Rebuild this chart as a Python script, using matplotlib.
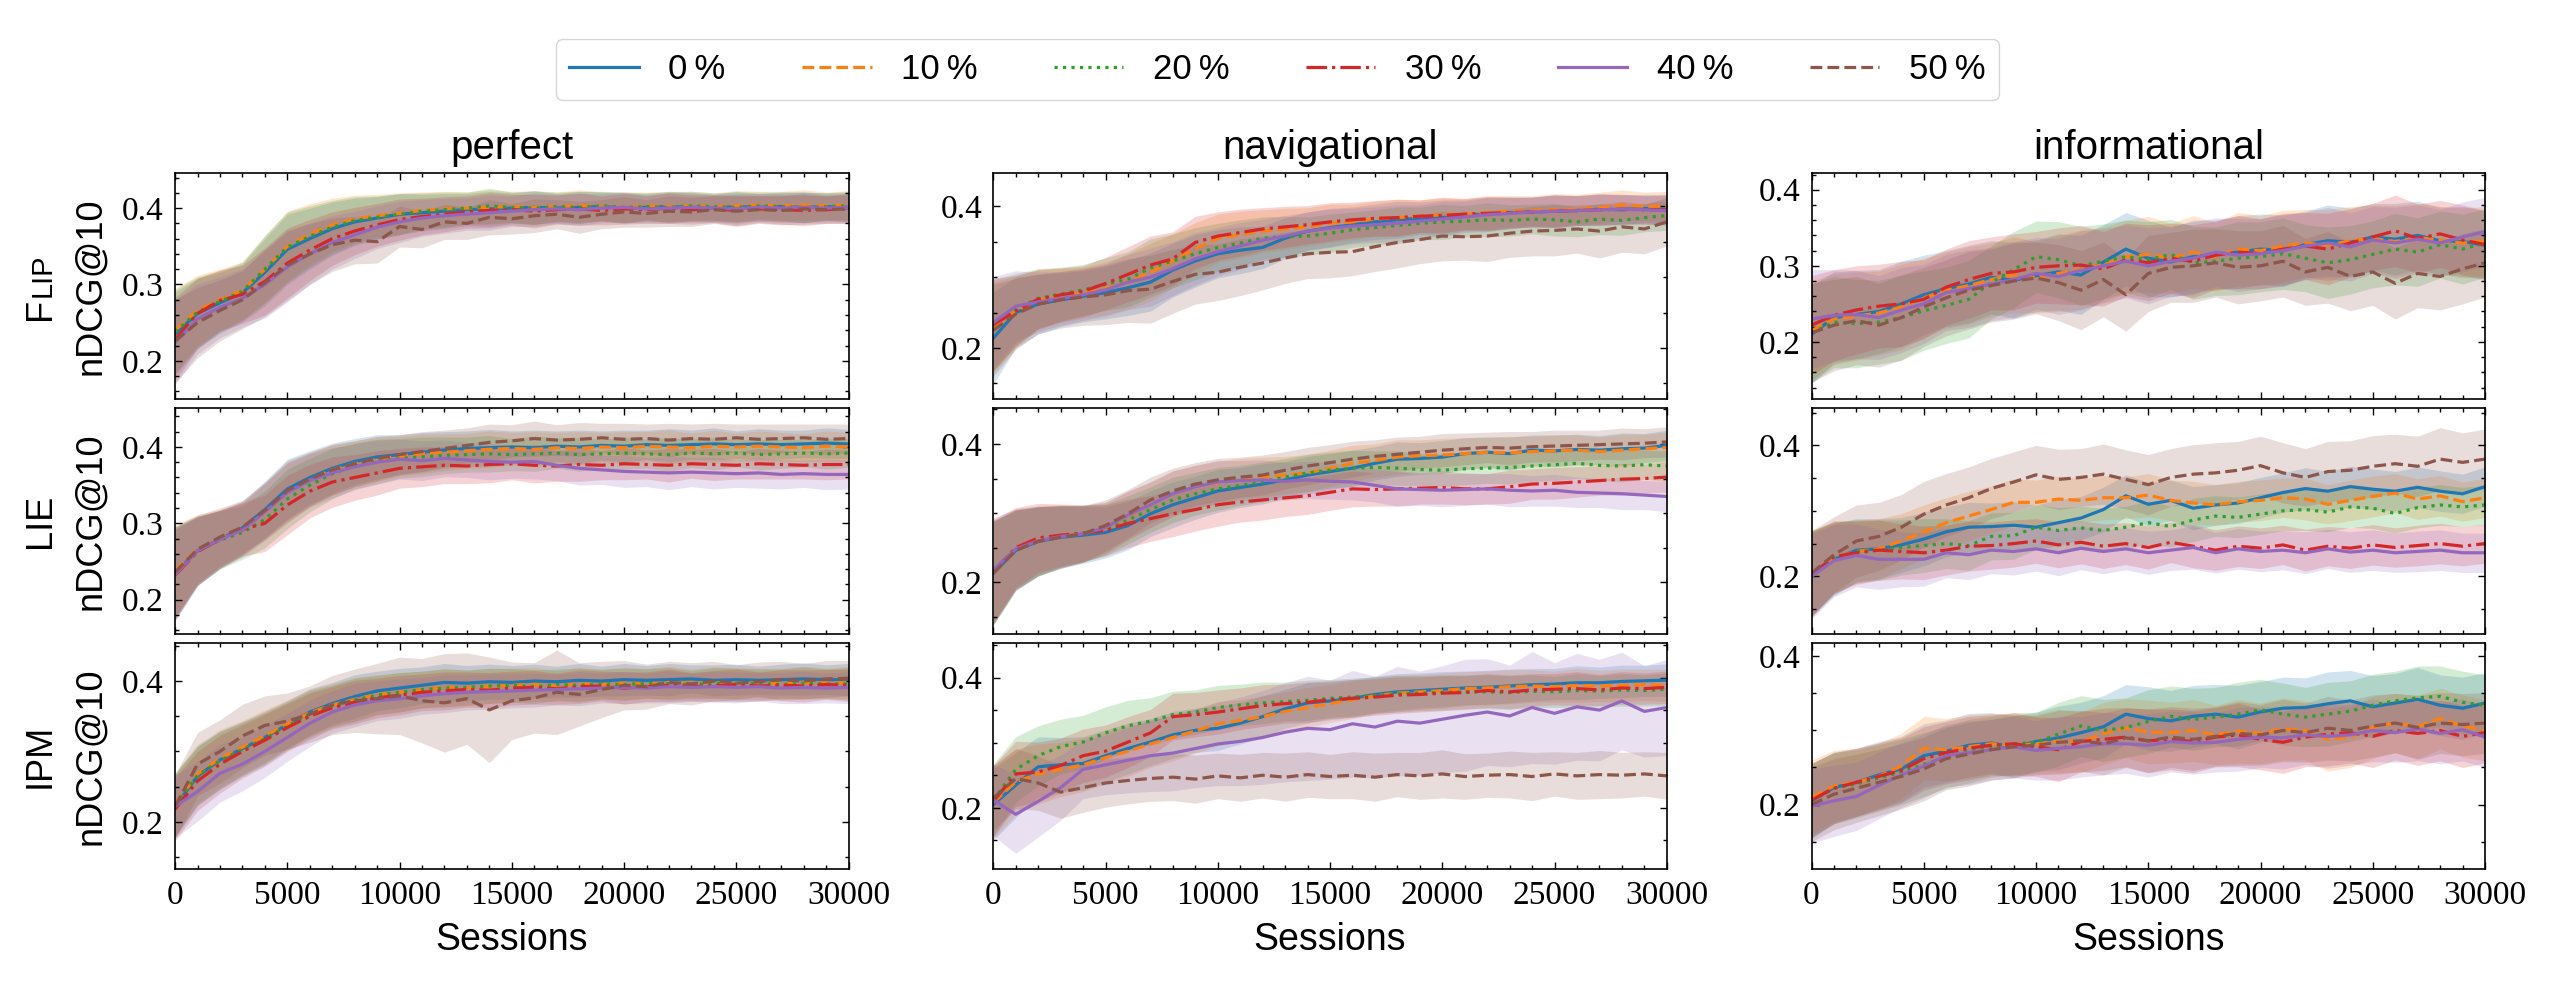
# Learning curves of nDCG@10 for different amounts of noise (3 click models x 3 user models)
import numpy as np
import matplotlib
matplotlib.use("Agg")
import matplotlib.pyplot as plt
from matplotlib.ticker import MultipleLocator, AutoMinorLocator

plt.rcParams['font.family'] = ['Liberation Serif', 'DejaVu Serif']
SANS = ['Liberation Sans', 'DejaVu Sans']

# x grid: one value every 1000 sessions
sessions = list(range(0, 30001, 1000))

labels = ['0\u2009%', '10\u2009%', '20\u2009%', '30\u2009%', '40\u2009%', '50\u2009%']
colors = ['#1f77b4', '#ff7f0e', '#2ca02c', '#d62728', '#9467bd', '#8c564b']
styles = ['-', '--', ':', '-.', '-', '--']
col_names = ['perfect', 'navigational', 'informational']

# ---- FLIP ----
flip_perfect = [
    [0.235, 0.262, 0.276, 0.289, 0.316, 0.346, 0.360, 0.373, 0.382, 0.387,
     0.392, 0.394, 0.396, 0.398, 0.399, 0.400, 0.401, 0.400, 0.401, 0.402,
     0.400, 0.401, 0.402, 0.401, 0.400, 0.402, 0.401, 0.402, 0.401, 0.402, 0.401],
    [0.240, 0.266, 0.280, 0.292, 0.320, 0.350, 0.366, 0.378, 0.386, 0.390,
     0.393, 0.397, 0.399, 0.400, 0.401, 0.402, 0.401, 0.402, 0.403, 0.402,
     0.401, 0.403, 0.402, 0.403, 0.402, 0.403, 0.404, 0.403, 0.404, 0.403, 0.404],
    [0.238, 0.264, 0.278, 0.291, 0.320, 0.349, 0.363, 0.375, 0.384, 0.388,
     0.392, 0.396, 0.398, 0.400, 0.403, 0.401, 0.400, 0.402, 0.401, 0.403,
     0.401, 0.402, 0.401, 0.403, 0.402, 0.401, 0.403, 0.402, 0.401, 0.402, 0.403],
    [0.228, 0.262, 0.279, 0.287, 0.304, 0.328, 0.345, 0.360, 0.370, 0.378,
     0.385, 0.389, 0.392, 0.395, 0.397, 0.398, 0.396, 0.398, 0.399, 0.397,
     0.399, 0.398, 0.400, 0.398, 0.399, 0.397, 0.399, 0.398, 0.397, 0.398, 0.399],
    [0.224, 0.255, 0.270, 0.282, 0.300, 0.323, 0.340, 0.355, 0.365, 0.375,
     0.382, 0.387, 0.390, 0.392, 0.394, 0.396, 0.398, 0.399, 0.398, 0.400,
     0.401, 0.399, 0.400, 0.401, 0.400, 0.399, 0.401, 0.400, 0.401, 0.400, 0.401],
    [0.226, 0.250, 0.266, 0.280, 0.302, 0.325, 0.340, 0.352, 0.358, 0.356,
     0.376, 0.372, 0.382, 0.380, 0.388, 0.386, 0.390, 0.392, 0.388, 0.392,
     0.395, 0.393, 0.396, 0.395, 0.398, 0.396, 0.398, 0.397, 0.399, 0.398, 0.399],
]
flip_perfect_std = [0.055, 0.046, 0.040, 0.038, 0.044, 0.046, 0.040, 0.035, 0.031, 0.028,
                    0.027, 0.024, 0.023, 0.021, 0.023, 0.020, 0.022, 0.019, 0.021, 0.019,
                    0.020, 0.018, 0.020, 0.019, 0.018, 0.020, 0.018, 0.019, 0.020, 0.018, 0.019]

flip_nav = [
    [0.214, 0.250, 0.262, 0.268, 0.273, 0.278, 0.285, 0.293, 0.310, 0.323,
     0.333, 0.338, 0.342, 0.355, 0.365, 0.370, 0.374, 0.378, 0.381, 0.383,
     0.384, 0.387, 0.389, 0.391, 0.392, 0.393, 0.394, 0.396, 0.395, 0.397, 0.396],
    [0.228, 0.252, 0.268, 0.274, 0.278, 0.284, 0.294, 0.307, 0.323, 0.340,
     0.355, 0.360, 0.365, 0.368, 0.371, 0.376, 0.378, 0.382, 0.384, 0.386,
     0.388, 0.389, 0.391, 0.393, 0.394, 0.395, 0.396, 0.398, 0.402, 0.400, 0.400],
    [0.232, 0.255, 0.270, 0.276, 0.282, 0.290, 0.297, 0.313, 0.323, 0.333,
     0.342, 0.348, 0.355, 0.357, 0.358, 0.362, 0.367, 0.370, 0.373, 0.376,
     0.378, 0.379, 0.381, 0.380, 0.382, 0.381, 0.378, 0.382, 0.380, 0.384, 0.387],
    [0.233, 0.252, 0.269, 0.275, 0.280, 0.291, 0.304, 0.317, 0.326, 0.349,
     0.358, 0.363, 0.368, 0.371, 0.374, 0.378, 0.381, 0.383, 0.384, 0.386,
     0.387, 0.389, 0.390, 0.391, 0.392, 0.393, 0.394, 0.395, 0.396, 0.395, 0.395],
    [0.236, 0.259, 0.265, 0.270, 0.275, 0.282, 0.293, 0.300, 0.312, 0.326,
     0.336, 0.344, 0.352, 0.358, 0.365, 0.369, 0.372, 0.374, 0.376, 0.379,
     0.382, 0.385, 0.388, 0.390, 0.392, 0.393, 0.394, 0.395, 0.396, 0.395, 0.394],
    [0.225, 0.248, 0.262, 0.268, 0.272, 0.275, 0.281, 0.283, 0.294, 0.304,
     0.307, 0.314, 0.320, 0.327, 0.333, 0.335, 0.336, 0.343, 0.349, 0.353,
     0.358, 0.357, 0.358, 0.362, 0.365, 0.366, 0.368, 0.365, 0.371, 0.368, 0.378],
]
flip_nav_std = [0.065, 0.050, 0.042, 0.038, 0.036, 0.037, 0.039, 0.041, 0.038, 0.037,
                0.034, 0.033, 0.030, 0.029, 0.027, 0.027, 0.025, 0.025, 0.026, 0.023,
                0.025, 0.022, 0.024, 0.022, 0.021, 0.023, 0.021, 0.022, 0.021, 0.020, 0.021]
flip_nav_std_50 = [0.065, 0.050, 0.042, 0.040, 0.040, 0.042, 0.045, 0.048, 0.045, 0.042,
                   0.040, 0.040, 0.038, 0.036, 0.035, 0.036, 0.034, 0.035, 0.036, 0.034,
                   0.035, 0.033, 0.036, 0.034, 0.035, 0.036, 0.034, 0.038, 0.036, 0.035, 0.034]

flip_info = [
    [0.210, 0.232, 0.236, 0.240, 0.250, 0.262, 0.270, 0.276, 0.285, 0.281,
     0.287, 0.292, 0.288, 0.305, 0.322, 0.310, 0.305, 0.312, 0.315, 0.318,
     0.322, 0.320, 0.328, 0.333, 0.331, 0.338, 0.335, 0.340, 0.333, 0.332, 0.327],
    [0.215, 0.230, 0.234, 0.238, 0.246, 0.258, 0.268, 0.274, 0.282, 0.288,
     0.285, 0.290, 0.295, 0.302, 0.312, 0.315, 0.310, 0.318, 0.312, 0.322,
     0.320, 0.326, 0.330, 0.327, 0.333, 0.336, 0.332, 0.337, 0.334, 0.330, 0.333],
    [0.212, 0.226, 0.224, 0.226, 0.232, 0.241, 0.248, 0.256, 0.278, 0.295,
     0.312, 0.308, 0.300, 0.306, 0.312, 0.308, 0.315, 0.304, 0.306, 0.310,
     0.312, 0.316, 0.310, 0.304, 0.308, 0.315, 0.322, 0.318, 0.328, 0.322, 0.330],
    [0.222, 0.235, 0.242, 0.247, 0.250, 0.256, 0.272, 0.282, 0.290, 0.292,
     0.298, 0.300, 0.301, 0.296, 0.308, 0.304, 0.310, 0.306, 0.314, 0.318,
     0.316, 0.322, 0.326, 0.322, 0.330, 0.338, 0.346, 0.336, 0.342, 0.334, 0.328],
    [0.230, 0.235, 0.236, 0.232, 0.242, 0.250, 0.265, 0.270, 0.276, 0.282,
     0.290, 0.286, 0.294, 0.300, 0.306, 0.300, 0.306, 0.310, 0.318, 0.314,
     0.316, 0.320, 0.326, 0.330, 0.325, 0.334, 0.330, 0.335, 0.330, 0.338, 0.345],
    [0.212, 0.222, 0.228, 0.222, 0.232, 0.246, 0.258, 0.268, 0.274, 0.280,
     0.284, 0.278, 0.268, 0.282, 0.262, 0.290, 0.298, 0.300, 0.304, 0.298,
     0.300, 0.306, 0.292, 0.298, 0.286, 0.292, 0.277, 0.290, 0.286, 0.296, 0.304],
]
flip_info_std = [0.065, 0.060, 0.058, 0.055, 0.056, 0.052, 0.050, 0.051, 0.048, 0.050,
                 0.047, 0.050, 0.052, 0.049, 0.048, 0.050, 0.046, 0.048, 0.045, 0.048,
                 0.046, 0.047, 0.044, 0.047, 0.045, 0.044, 0.047, 0.045, 0.044, 0.046, 0.045]

# ---- LIE ----
lie_perfect = [
    [0.235, 0.264, 0.279, 0.294, 0.318, 0.345, 0.360, 0.372, 0.381, 0.387,
     0.390, 0.393, 0.396, 0.398, 0.399, 0.400, 0.399, 0.401, 0.400, 0.402,
     0.401, 0.403, 0.402, 0.403, 0.404, 0.403, 0.404, 0.403, 0.404, 0.405, 0.404],
    [0.238, 0.266, 0.280, 0.293, 0.315, 0.340, 0.357, 0.370, 0.378, 0.384,
     0.388, 0.391, 0.393, 0.395, 0.397, 0.398, 0.397, 0.399, 0.398, 0.400,
     0.399, 0.401, 0.400, 0.399, 0.401, 0.400, 0.401, 0.400, 0.399, 0.401, 0.400],
    [0.235, 0.264, 0.278, 0.288, 0.305, 0.332, 0.350, 0.365, 0.375, 0.381,
     0.385, 0.387, 0.389, 0.390, 0.391, 0.390, 0.391, 0.392, 0.390, 0.391,
     0.392, 0.391, 0.390, 0.392, 0.391, 0.392, 0.390, 0.391, 0.392, 0.391, 0.392],
    [0.232, 0.263, 0.279, 0.292, 0.300, 0.324, 0.342, 0.354, 0.360, 0.366,
     0.372, 0.374, 0.376, 0.375, 0.377, 0.378, 0.376, 0.375, 0.377, 0.376,
     0.378, 0.377, 0.376, 0.378, 0.377, 0.376, 0.378, 0.377, 0.376, 0.377, 0.377],
    [0.233, 0.264, 0.279, 0.291, 0.315, 0.340, 0.356, 0.366, 0.374, 0.380,
     0.384, 0.382, 0.385, 0.383, 0.381, 0.380, 0.381, 0.376, 0.372, 0.370,
     0.368, 0.367, 0.366, 0.367, 0.366, 0.365, 0.366, 0.364, 0.365, 0.364, 0.364],
    [0.236, 0.266, 0.282, 0.295, 0.317, 0.343, 0.358, 0.370, 0.378, 0.385,
     0.390, 0.394, 0.398, 0.402, 0.406, 0.408, 0.411, 0.409, 0.410, 0.412,
     0.410, 0.411, 0.409, 0.411, 0.410, 0.412, 0.410, 0.411, 0.412, 0.410, 0.411],
]
lie_perfect_std = [0.060, 0.045, 0.038, 0.035, 0.037, 0.039, 0.035, 0.033, 0.030, 0.029,
                   0.026, 0.026, 0.024, 0.023, 0.024, 0.021, 0.023, 0.020, 0.022, 0.019,
                   0.021, 0.019, 0.022, 0.019, 0.021, 0.018, 0.020, 0.019, 0.018, 0.020, 0.019]

lie_nav = [
    [0.213, 0.246, 0.259, 0.265, 0.268, 0.272, 0.282, 0.299, 0.312, 0.322,
     0.332, 0.337, 0.342, 0.348, 0.355, 0.360, 0.365, 0.372, 0.378, 0.379,
     0.381, 0.386, 0.388, 0.386, 0.391, 0.390, 0.392, 0.391, 0.393, 0.394, 0.398],
    [0.214, 0.248, 0.260, 0.267, 0.270, 0.278, 0.296, 0.312, 0.328, 0.338,
     0.344, 0.350, 0.352, 0.355, 0.358, 0.365, 0.372, 0.376, 0.381, 0.383,
     0.384, 0.386, 0.388, 0.387, 0.389, 0.390, 0.391, 0.389, 0.391, 0.393, 0.395],
    [0.214, 0.247, 0.259, 0.266, 0.270, 0.276, 0.290, 0.305, 0.319, 0.328,
     0.335, 0.340, 0.345, 0.352, 0.358, 0.362, 0.365, 0.366, 0.365, 0.363,
     0.362, 0.364, 0.365, 0.366, 0.368, 0.370, 0.372, 0.369, 0.368, 0.370, 0.368],
    [0.216, 0.250, 0.264, 0.268, 0.271, 0.275, 0.285, 0.292, 0.299, 0.305,
     0.312, 0.316, 0.319, 0.322, 0.325, 0.330, 0.335, 0.334, 0.335, 0.336,
     0.337, 0.335, 0.335, 0.338, 0.342, 0.343, 0.345, 0.347, 0.349, 0.350, 0.352],
    [0.218, 0.248, 0.260, 0.266, 0.270, 0.279, 0.297, 0.312, 0.328, 0.338,
     0.345, 0.347, 0.348, 0.346, 0.348, 0.346, 0.345, 0.340, 0.335, 0.334,
     0.333, 0.334, 0.335, 0.333, 0.332, 0.333, 0.330, 0.329, 0.328, 0.326, 0.324],
    [0.213, 0.246, 0.259, 0.265, 0.270, 0.282, 0.299, 0.319, 0.332, 0.342,
     0.348, 0.352, 0.355, 0.362, 0.368, 0.373, 0.378, 0.382, 0.385, 0.388,
     0.391, 0.393, 0.395, 0.394, 0.396, 0.397, 0.398, 0.399, 0.400, 0.401, 0.403],
]
lie_nav_std = [0.075, 0.058, 0.050, 0.045, 0.041, 0.037, 0.035, 0.033, 0.033, 0.031,
               0.031, 0.029, 0.029, 0.027, 0.027, 0.026, 0.026, 0.024, 0.025, 0.023,
               0.024, 0.023, 0.022, 0.024, 0.022, 0.023, 0.022, 0.021, 0.023, 0.021, 0.022]

lie_info = [
    [0.203, 0.226, 0.240, 0.242, 0.248, 0.257, 0.268, 0.275, 0.276, 0.278,
     0.275, 0.282, 0.289, 0.302, 0.323, 0.310, 0.316, 0.304, 0.309, 0.312,
     0.320, 0.328, 0.334, 0.330, 0.337, 0.333, 0.330, 0.336, 0.330, 0.326, 0.337],
    [0.205, 0.228, 0.238, 0.242, 0.254, 0.268, 0.282, 0.292, 0.302, 0.313,
     0.313, 0.318, 0.316, 0.320, 0.320, 0.324, 0.316, 0.312, 0.309, 0.314,
     0.316, 0.320, 0.318, 0.310, 0.316, 0.322, 0.327, 0.318, 0.323, 0.314, 0.320],
    [0.205, 0.228, 0.238, 0.240, 0.244, 0.247, 0.250, 0.247, 0.261, 0.262,
     0.275, 0.270, 0.274, 0.270, 0.275, 0.282, 0.276, 0.286, 0.292, 0.290,
     0.295, 0.300, 0.302, 0.298, 0.306, 0.304, 0.296, 0.305, 0.309, 0.306, 0.309],
    [0.203, 0.230, 0.236, 0.240, 0.238, 0.236, 0.240, 0.246, 0.247, 0.250,
     0.254, 0.248, 0.252, 0.246, 0.250, 0.244, 0.252, 0.246, 0.240, 0.246,
     0.243, 0.248, 0.240, 0.246, 0.243, 0.248, 0.244, 0.247, 0.250, 0.246, 0.250],
    [0.200, 0.224, 0.232, 0.226, 0.226, 0.226, 0.236, 0.233, 0.240, 0.238,
     0.242, 0.236, 0.243, 0.238, 0.242, 0.236, 0.240, 0.244, 0.236, 0.242,
     0.238, 0.240, 0.236, 0.242, 0.237, 0.240, 0.236, 0.238, 0.240, 0.236, 0.236],
    [0.205, 0.233, 0.254, 0.261, 0.275, 0.295, 0.309, 0.320, 0.334, 0.344,
     0.355, 0.348, 0.351, 0.356, 0.348, 0.340, 0.351, 0.356, 0.358, 0.362,
     0.369, 0.358, 0.351, 0.360, 0.362, 0.368, 0.372, 0.368, 0.379, 0.374, 0.379],
]
lie_info_std = [0.065, 0.055, 0.048, 0.046, 0.042, 0.041, 0.038, 0.038, 0.036, 0.036,
                0.034, 0.035, 0.033, 0.034, 0.032, 0.033, 0.031, 0.033, 0.031, 0.031,
                0.031, 0.030, 0.032, 0.030, 0.031, 0.031, 0.030, 0.031, 0.031, 0.030, 0.030]
lie_info_std_50 = [0.065, 0.058, 0.055, 0.052, 0.050, 0.050, 0.048, 0.047, 0.046, 0.046,
                   0.045, 0.046, 0.044, 0.046, 0.045, 0.046, 0.044, 0.045, 0.046, 0.044,
                   0.045, 0.046, 0.044, 0.046, 0.045, 0.047, 0.045, 0.046, 0.048, 0.045, 0.046]

# ---- IPM ----
ipm_perfect = [
    [0.222, 0.265, 0.288, 0.304, 0.320, 0.338, 0.356, 0.368, 0.378, 0.386,
     0.390, 0.394, 0.398, 0.397, 0.399, 0.398, 0.400, 0.399, 0.401, 0.400,
     0.402, 0.401, 0.402, 0.403, 0.401, 0.402, 0.401, 0.402, 0.403, 0.402, 0.402],
    [0.225, 0.268, 0.290, 0.306, 0.322, 0.339, 0.355, 0.366, 0.374, 0.381,
     0.384, 0.388, 0.391, 0.390, 0.393, 0.394, 0.395, 0.393, 0.396, 0.395,
     0.397, 0.396, 0.398, 0.397, 0.398, 0.397, 0.398, 0.396, 0.398, 0.397, 0.398],
    [0.224, 0.266, 0.287, 0.303, 0.318, 0.336, 0.353, 0.364, 0.373, 0.380,
     0.384, 0.388, 0.390, 0.391, 0.393, 0.394, 0.392, 0.395, 0.394, 0.396,
     0.395, 0.397, 0.396, 0.395, 0.397, 0.396, 0.397, 0.395, 0.397, 0.396, 0.396],
    [0.218, 0.258, 0.282, 0.300, 0.316, 0.334, 0.350, 0.362, 0.370, 0.376,
     0.380, 0.384, 0.386, 0.388, 0.387, 0.390, 0.391, 0.389, 0.392, 0.393,
     0.390, 0.392, 0.394, 0.392, 0.393, 0.395, 0.393, 0.394, 0.393, 0.395, 0.394],
    [0.222, 0.243, 0.269, 0.282, 0.300, 0.320, 0.340, 0.356, 0.366, 0.372,
     0.375, 0.379, 0.382, 0.384, 0.385, 0.386, 0.387, 0.388, 0.389, 0.390,
     0.391, 0.390, 0.392, 0.391, 0.392, 0.391, 0.392, 0.390, 0.391, 0.390, 0.391],
    [0.222, 0.282, 0.300, 0.322, 0.337, 0.343, 0.353, 0.366, 0.372, 0.375,
     0.379, 0.372, 0.369, 0.375, 0.359, 0.372, 0.376, 0.384, 0.381, 0.388,
     0.394, 0.392, 0.398, 0.396, 0.400, 0.397, 0.399, 0.402, 0.400, 0.403, 0.404],
]
ipm_perfect_std = [0.045, 0.042, 0.041, 0.038, 0.037, 0.034, 0.033, 0.030, 0.031, 0.028,
                   0.028, 0.026, 0.027, 0.025, 0.025, 0.024, 0.024, 0.022, 0.024, 0.021,
                   0.023, 0.021, 0.023, 0.020, 0.022, 0.022, 0.020, 0.022, 0.023, 0.021, 0.023]
ipm_perfect_std_50 = [0.045, 0.045, 0.045, 0.045, 0.042, 0.040, 0.040, 0.042, 0.045, 0.050,
                      0.055, 0.060, 0.070, 0.065, 0.075, 0.055, 0.050, 0.060, 0.045, 0.040,
                      0.035, 0.032, 0.030, 0.030, 0.028, 0.026, 0.028, 0.026, 0.025, 0.026, 0.025]

ipm_nav = [
    [0.205, 0.235, 0.263, 0.266, 0.268, 0.280, 0.291, 0.301, 0.312, 0.319,
     0.322, 0.330, 0.340, 0.352, 0.361, 0.364, 0.368, 0.374, 0.378, 0.380,
     0.382, 0.384, 0.385, 0.387, 0.389, 0.390, 0.392, 0.392, 0.394, 0.395, 0.396],
    [0.208, 0.240, 0.252, 0.259, 0.266, 0.277, 0.287, 0.298, 0.308, 0.318,
     0.329, 0.334, 0.340, 0.348, 0.354, 0.360, 0.366, 0.372, 0.376, 0.378,
     0.380, 0.383, 0.384, 0.386, 0.387, 0.386, 0.388, 0.387, 0.388, 0.389, 0.388],
    [0.212, 0.259, 0.280, 0.294, 0.301, 0.315, 0.326, 0.333, 0.343, 0.347,
     0.354, 0.358, 0.361, 0.363, 0.365, 0.368, 0.370, 0.373, 0.375, 0.376,
     0.377, 0.378, 0.378, 0.377, 0.379, 0.378, 0.380, 0.379, 0.381, 0.380, 0.382],
    [0.210, 0.252, 0.255, 0.265, 0.280, 0.287, 0.301, 0.315, 0.340, 0.343,
     0.347, 0.352, 0.357, 0.360, 0.362, 0.366, 0.368, 0.370, 0.373, 0.374,
     0.376, 0.377, 0.380, 0.378, 0.381, 0.382, 0.383, 0.381, 0.384, 0.383, 0.385],
    [0.212, 0.190, 0.210, 0.231, 0.259, 0.266, 0.273, 0.280, 0.284, 0.291,
     0.298, 0.302, 0.308, 0.316, 0.322, 0.320, 0.329, 0.324, 0.333, 0.330,
     0.336, 0.342, 0.347, 0.341, 0.354, 0.345, 0.355, 0.350, 0.364, 0.348, 0.354],
    [0.215, 0.245, 0.238, 0.224, 0.231, 0.238, 0.242, 0.245, 0.247, 0.244,
     0.249, 0.246, 0.250, 0.247, 0.251, 0.248, 0.250, 0.247, 0.251, 0.249,
     0.252, 0.248, 0.250, 0.251, 0.248, 0.252, 0.249, 0.251, 0.250, 0.252, 0.249],
]
ipm_nav_std = [0.055, 0.050, 0.046, 0.042, 0.041, 0.040, 0.039, 0.036, 0.036, 0.034,
               0.034, 0.032, 0.032, 0.030, 0.031, 0.029, 0.029, 0.028, 0.028, 0.027,
               0.027, 0.026, 0.026, 0.026, 0.025, 0.024, 0.026, 0.024, 0.025, 0.024, 0.025]
ipm_nav_std_40 = [0.055, 0.060, 0.055, 0.050, 0.045, 0.046, 0.050, 0.055, 0.058, 0.060,
                  0.064, 0.068, 0.072, 0.076, 0.080, 0.076, 0.082, 0.078, 0.084, 0.080,
                  0.082, 0.086, 0.082, 0.078, 0.086, 0.078, 0.082, 0.078, 0.075, 0.070, 0.074]
ipm_nav_std_50 = [0.050, 0.046, 0.042, 0.040, 0.038, 0.037, 0.036, 0.035, 0.036, 0.037,
                  0.035, 0.036, 0.035, 0.037, 0.035, 0.034, 0.036, 0.037, 0.034, 0.036,
                  0.037, 0.035, 0.034, 0.036, 0.037, 0.034, 0.036, 0.037, 0.035, 0.034, 0.036]

ipm_info = [
    [0.205, 0.223, 0.230, 0.240, 0.248, 0.266, 0.272, 0.280, 0.283, 0.278,
     0.285, 0.290, 0.297, 0.305, 0.322, 0.316, 0.313, 0.319, 0.322, 0.318,
     0.325, 0.330, 0.331, 0.336, 0.340, 0.332, 0.337, 0.342, 0.334, 0.330, 0.337],
    [0.210, 0.225, 0.230, 0.238, 0.252, 0.276, 0.274, 0.278, 0.282, 0.280,
     0.282, 0.286, 0.284, 0.296, 0.303, 0.298, 0.297, 0.300, 0.294, 0.299,
     0.296, 0.302, 0.300, 0.288, 0.291, 0.304, 0.310, 0.305, 0.316, 0.306, 0.300],
    [0.205, 0.222, 0.228, 0.236, 0.244, 0.254, 0.264, 0.272, 0.278, 0.282,
     0.284, 0.295, 0.306, 0.300, 0.304, 0.312, 0.319, 0.315, 0.318, 0.322,
     0.328, 0.322, 0.318, 0.322, 0.326, 0.334, 0.340, 0.344, 0.346, 0.338, 0.334],
    [0.206, 0.222, 0.230, 0.238, 0.246, 0.262, 0.270, 0.276, 0.280, 0.282,
     0.278, 0.274, 0.285, 0.288, 0.291, 0.286, 0.288, 0.285, 0.291, 0.294,
     0.288, 0.284, 0.291, 0.295, 0.297, 0.292, 0.300, 0.296, 0.300, 0.292, 0.297],
    [0.198, 0.205, 0.211, 0.226, 0.240, 0.252, 0.266, 0.270, 0.274, 0.278,
     0.273, 0.276, 0.278, 0.282, 0.282, 0.280, 0.285, 0.283, 0.284, 0.288,
     0.291, 0.290, 0.294, 0.292, 0.294, 0.300, 0.297, 0.302, 0.296, 0.301, 0.291],
    [0.200, 0.214, 0.222, 0.230, 0.238, 0.248, 0.262, 0.268, 0.274, 0.278,
     0.280, 0.284, 0.286, 0.282, 0.290, 0.286, 0.291, 0.288, 0.292, 0.296,
     0.294, 0.300, 0.297, 0.303, 0.300, 0.306, 0.310, 0.304, 0.310, 0.308, 0.310],
]
ipm_info_std = [0.050, 0.048, 0.046, 0.045, 0.044, 0.043, 0.042, 0.043, 0.041, 0.042,
                0.040, 0.043, 0.041, 0.042, 0.040, 0.043, 0.041, 0.042, 0.040, 0.043,
                0.041, 0.042, 0.040, 0.043, 0.041, 0.042, 0.040, 0.043, 0.041, 0.042, 0.041]

# panel table: rows = click models, cols = user models
means = [[flip_perfect, flip_nav, flip_info],
         [lie_perfect, lie_nav, lie_info],
         [ipm_perfect, ipm_nav, ipm_info]]
stds = [[flip_perfect_std, flip_nav_std, flip_info_std],
        [lie_perfect_std, lie_nav_std, lie_info_std],
        [ipm_perfect_std, ipm_nav_std, ipm_info_std]]
std_special = {(0, 1, 5): flip_nav_std_50, (1, 2, 5): lie_info_std_50,
               (2, 0, 5): ipm_perfect_std_50, (2, 1, 4): ipm_nav_std_40,
               (2, 1, 5): ipm_nav_std_50}
ylims = [[(0.150, 0.446), (0.128, 0.447), (0.125, 0.422)],
         [(0.155, 0.451), (0.125, 0.452), (0.112, 0.457)],
         [(0.133, 0.454), (0.106, 0.453), (0.113, 0.418)]]
ysteps = [[0.1, 0.2, 0.1],
          [0.1, 0.2, 0.2],
          [0.2, 0.2, 0.2]]

fig, axes = plt.subplots(3, 3, figsize=(25.6, 10), dpi=100)
fig.subplots_adjust(left=0.0684, right=0.9707, bottom=0.131, top=0.827,
                    wspace=0.215, hspace=0.04)

x = np.array(sessions)
for r in range(3):
    for c in range(3):
        ax = axes[r, c]
        for i in range(6):
            m = np.array(means[r][c][i])
            s = np.array(std_special.get((r, c, i), stds[r][c]))
            ax.fill_between(x, m - s, m + s, color=colors[i], alpha=0.2, lw=0)
        for i in range(6):
            ax.plot(x, means[r][c][i], color=colors[i], ls=styles[i], lw=2.3,
                    label=labels[i])
        ax.set_xlim(0, 30000)
        ax.set_ylim(*ylims[r][c])
        ax.xaxis.set_major_locator(MultipleLocator(5000))
        ax.xaxis.set_minor_locator(AutoMinorLocator())
        ax.yaxis.set_major_locator(MultipleLocator(ysteps[r][c]))
        ax.yaxis.set_minor_locator(AutoMinorLocator())
        ax.tick_params(which='both', direction='in', top=True, right=True,
                       labelsize=24, width=1.0)
        ax.tick_params(which='major', length=5, pad=8)
        ax.tick_params(which='minor', length=2.8)
        for sp in ax.spines.values():
            sp.set_linewidth(1.2)
        if r == 0:
            ax.set_title(col_names[c], fontsize=29, family=SANS, pad=10)
        if r < 2:
            ax.tick_params(labelbottom=False)
        else:
            ax.set_xlabel('Sessions', fontsize=27, family=SANS, labelpad=8)

# row labels
for r in range(3):
    pos = axes[r, 0].get_position()
    yc = (pos.y0 + pos.y1) / 2
    fig.text(0.0422, yc, 'nDCG@10', rotation=90, ha='right', va='center',
             fontsize=26, family=SANS)
    if r == 0:
        # small caps look for "Flip"
        y0 = yc - 0.034
        fig.text(0.0227, y0, 'F', rotation=90, ha='right', va='bottom',
                 fontsize=26, family=SANS)
        fig.text(0.0222, y0 + 0.023, 'LIP', rotation=90, ha='right', va='bottom',
                 fontsize=21, family=SANS)
    else:
        fig.text(0.0227, yc, ['LIE', 'IPM'][r - 1], rotation=90, ha='right',
                 va='center', fontsize=26, family=SANS)

handles, labs = axes[0, 0].get_legend_handles_labels()
fig.legend(handles, labs, loc='upper center', bbox_to_anchor=(0.499, 0.978),
           ncol=6, prop={'family': SANS, 'size': 25}, handlelength=2.0,
           handletextpad=0.85, columnspacing=2.2, borderpad=0.4)

fig.savefig('out.png', dpi=100)
